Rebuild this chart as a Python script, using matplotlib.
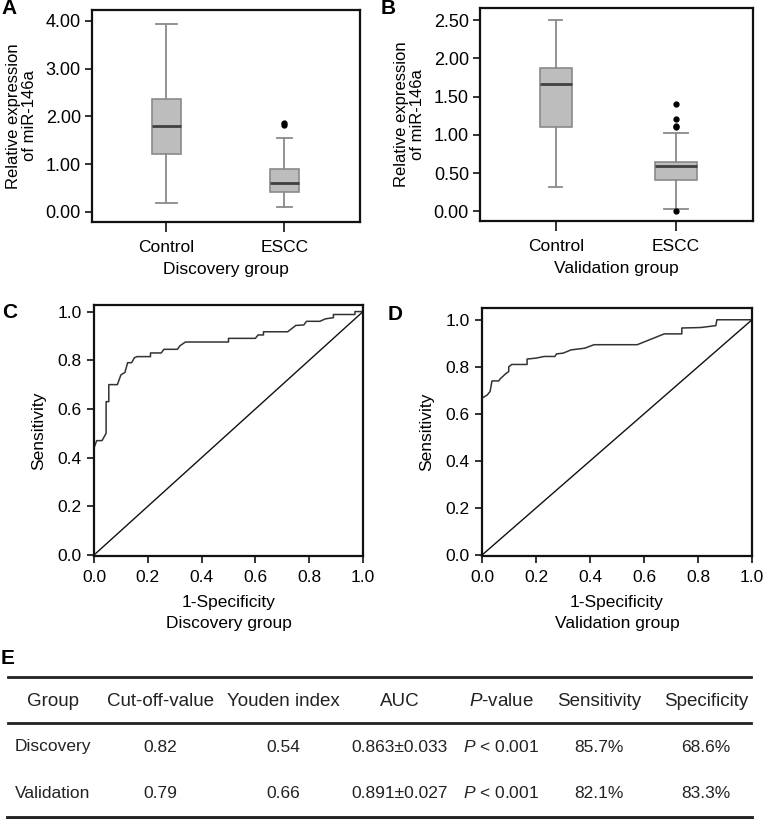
import numpy as np
import matplotlib
matplotlib.use("Agg")
import matplotlib.pyplot as plt
from matplotlib.lines import Line2D

plt.rcParams['font.family'] = ['Liberation Sans', 'DejaVu Sans']
plt.rcParams['mathtext.fontset'] = 'custom'
plt.rcParams['mathtext.it'] = 'Liberation Sans:italic'
plt.rcParams['mathtext.rm'] = 'Liberation Sans'

# ---- box plot summaries ----
groups = ["Control", "ESCC"]

disc_whislo = [0.19, 0.11]
disc_q1 = [1.21, 0.41]
disc_med = [1.80, 0.61]
disc_q3 = [2.36, 0.89]
disc_whishi = [3.94, 1.54]
disc_fliers = [[], [1.82, 1.87]]

val_whislo = [0.32, 0.03]
val_q1 = [1.10, 0.41]
val_med = [1.67, 0.59]
val_q3 = [1.87, 0.65]
val_whishi = [2.50, 1.02]
val_fliers = [[], [1.40, 1.21, 1.12, 1.10, 0.01]]

# ---- ROC curves ----
roc_disc_fpr = [0.0, 0.01, 0.03, 0.04, 0.045, 0.045, 0.055, 0.055, 0.087, 0.10, 0.115,
                0.125, 0.14, 0.15, 0.16, 0.21, 0.21, 0.25, 0.26, 0.31, 0.32, 0.34,
                0.50, 0.50, 0.60, 0.61, 0.63, 0.63, 0.72, 0.75, 0.78, 0.79, 0.84,
                0.86, 0.89, 0.89, 0.97, 0.97, 1.0]
roc_disc_tpr = [0.44, 0.47, 0.47, 0.49, 0.50, 0.63, 0.63, 0.70, 0.70, 0.74, 0.75,
                0.79, 0.79, 0.81, 0.815, 0.815, 0.83, 0.83, 0.845, 0.845, 0.86, 0.875,
                0.875, 0.89, 0.89, 0.904, 0.904, 0.917, 0.917, 0.943, 0.945, 0.96, 0.96,
                0.97, 0.975, 0.988, 0.988, 1.0, 1.0]

roc_val_fpr = [0.0, 0.019, 0.03, 0.037, 0.062, 0.068, 0.078, 0.087, 0.099, 0.099, 0.11,
               0.167, 0.167, 0.20, 0.23, 0.27, 0.276, 0.30, 0.33, 0.38, 0.415, 0.575,
               0.675, 0.74, 0.74, 0.81, 0.866, 0.87, 1.0]
roc_val_tpr = [0.667, 0.68, 0.695, 0.74, 0.74, 0.75, 0.76, 0.77, 0.78, 0.80, 0.81,
               0.81, 0.833, 0.837, 0.844, 0.844, 0.855, 0.858, 0.872, 0.879, 0.894, 0.894,
               0.94, 0.94, 0.965, 0.967, 0.975, 1.0, 1.0]

# ---- table E ----
table_header = ["Group", "Cut-off-value", "Youden index", "AUC", "$P$-value", "Sensitivity", "Specificity"]
table_rows = [
    ["Discovery", "0.82", "0.54", "0.863\u00b10.033", "$P$ < 0.001", "85.7%", "68.6%"],
    ["Validation", "0.79", "0.66", "0.891\u00b10.027", "$P$ < 0.001", "82.1%", "83.3%"],
]
col_x = [53, 160, 283, 400, 501, 599, 706]

W, H = 764, 819
fig = plt.figure(figsize=(W / 100, H / 100), dpi=100)


def px_axes(l, t, r, b):
    return fig.add_axes([l / W, 1 - b / H, (r - l) / W, (b - t) / H])


def style_frame(ax, size):
    for s in ax.spines.values():
        s.set_linewidth(1.6)
        s.set_color('#111111')
    ax.tick_params(direction='out', length=5, width=1.2, labelsize=size, color='#111111', pad=2)


def box_panel(ax, whislo, q1, med, q3, whishi, fliers, widths, caps, ylim, yticks, xlabel):
    stats = []
    for i in range(len(groups)):
        stats.append(dict(whislo=whislo[i], q1=q1[i], med=med[i], q3=q3[i],
                          whishi=whishi[i], fliers=fliers[i], label=groups[i]))
    ax.bxp(stats, positions=[1, 2], widths=widths, capwidths=caps, patch_artist=True,
           boxprops=dict(facecolor='#bdbdbd', edgecolor='#8a8a8a', linewidth=1.2),
           whiskerprops=dict(color='#8a8a8a', linewidth=1.3),
           capprops=dict(color='#8a8a8a', linewidth=1.3),
           medianprops=dict(color='#404040', linewidth=2.0),
           flierprops=dict(marker='o', markerfacecolor='black', markeredgecolor='black',
                           markersize=3.5))
    ax.set_xlim(0.37, 2.64)
    ax.set_ylim(*ylim)
    ax.set_yticks(yticks)
    ax.set_yticklabels([f"{v:.2f}" for v in yticks])
    style_frame(ax, 13)
    ax.tick_params(axis='y', pad=3)
    ax.tick_params(axis='x', length=7, pad=6, labelsize=12.5)
    ax.set_xlabel(xlabel, fontsize=12.5, labelpad=5)
    ax.set_ylabel("Relative expression\nof miR-146a", fontsize=12, labelpad=6, linespacing=1.1)


axA = px_axes(92, 10, 360, 222)
box_panel(axA, disc_whislo, disc_q1, disc_med, disc_q3, disc_whishi, disc_fliers,
          [0.25, 0.25], [0.18, 0.12], (-0.21, 4.23), [0, 1, 2, 3, 4], "Discovery group")

axB = px_axes(480, 8, 753, 221)
box_panel(axB, val_whislo, val_q1, val_med, val_q3, val_whishi, val_fliers,
          [0.27, 0.35], [0.11, 0.2], (-0.127, 2.66), [0, 0.5, 1.0, 1.5, 2.0, 2.5], "Validation group")


def roc_panel(ax, fpr, tpr, top, xlabel):
    ax.plot(fpr, tpr, color='#333333', linewidth=1.1)
    ax.plot([0, 1], [0, 1], color='#111111', linewidth=1.0)
    ax.set_xlim(0, 1.0)
    ax.set_ylim(-0.004, top)
    ticks = [0, 0.2, 0.4, 0.6, 0.8, 1.0]
    ax.set_xticks(ticks)
    ax.set_yticks(ticks)
    ax.set_xticklabels([f"{v:.1f}" for v in ticks])
    ax.set_yticklabels([f"{v:.1f}" for v in ticks])
    style_frame(ax, 12.5)
    ax.tick_params(axis='x', pad=5)
    ax.tick_params(axis='y', pad=4)
    ax.set_xlabel("1-Specificity\n" + xlabel, fontsize=12.5, labelpad=7, linespacing=1.55)
    ax.set_ylabel("Sensitivity", fontsize=12.5, labelpad=8)


axC = px_axes(94, 305, 363, 556)
roc_panel(axC, roc_disc_fpr, roc_disc_tpr, 1.027, "Discovery group")

axD = px_axes(482, 308, 752, 556)
roc_panel(axD, roc_val_fpr, roc_val_tpr, 1.05, "Validation group")

# panel letters
for letter, x, y in [("A", 1, 9), ("B", 381, 8), ("C", 2, 312), ("D", 388, 315), ("E", 1, 658)]:
    fig.text(x / W, 1 - y / H, letter, fontsize=15, fontweight='bold', ha='left', va='center',
             family=['Liberation Sans', 'DejaVu Sans'])

# ---- table E drawn in pixel coordinates ----
axT = fig.add_axes([0, 0, 1, 1], zorder=-1)
axT.set_xlim(0, W)
axT.set_ylim(H, 0)
axT.axis('off')
axT.add_line(Line2D([8, 751], [677, 677], color='#222222', linewidth=2.0))
axT.add_line(Line2D([8, 751], [723, 723], color='#222222', linewidth=2.0))
axT.add_line(Line2D([8, 751], [817.5, 817.5], color='#222222', linewidth=3.5))
for x, txt in zip(col_x, table_header):
    axT.text(x, 702, txt, fontsize=13.5, ha='center', va='center', color='#222222')
for y, row in zip([747, 793], table_rows):
    for x, txt in zip(col_x, row):
        axT.text(x, y, txt, fontsize=12.5, ha='center', va='center', color='#222222')

fig.savefig("out.png", dpi=100)
